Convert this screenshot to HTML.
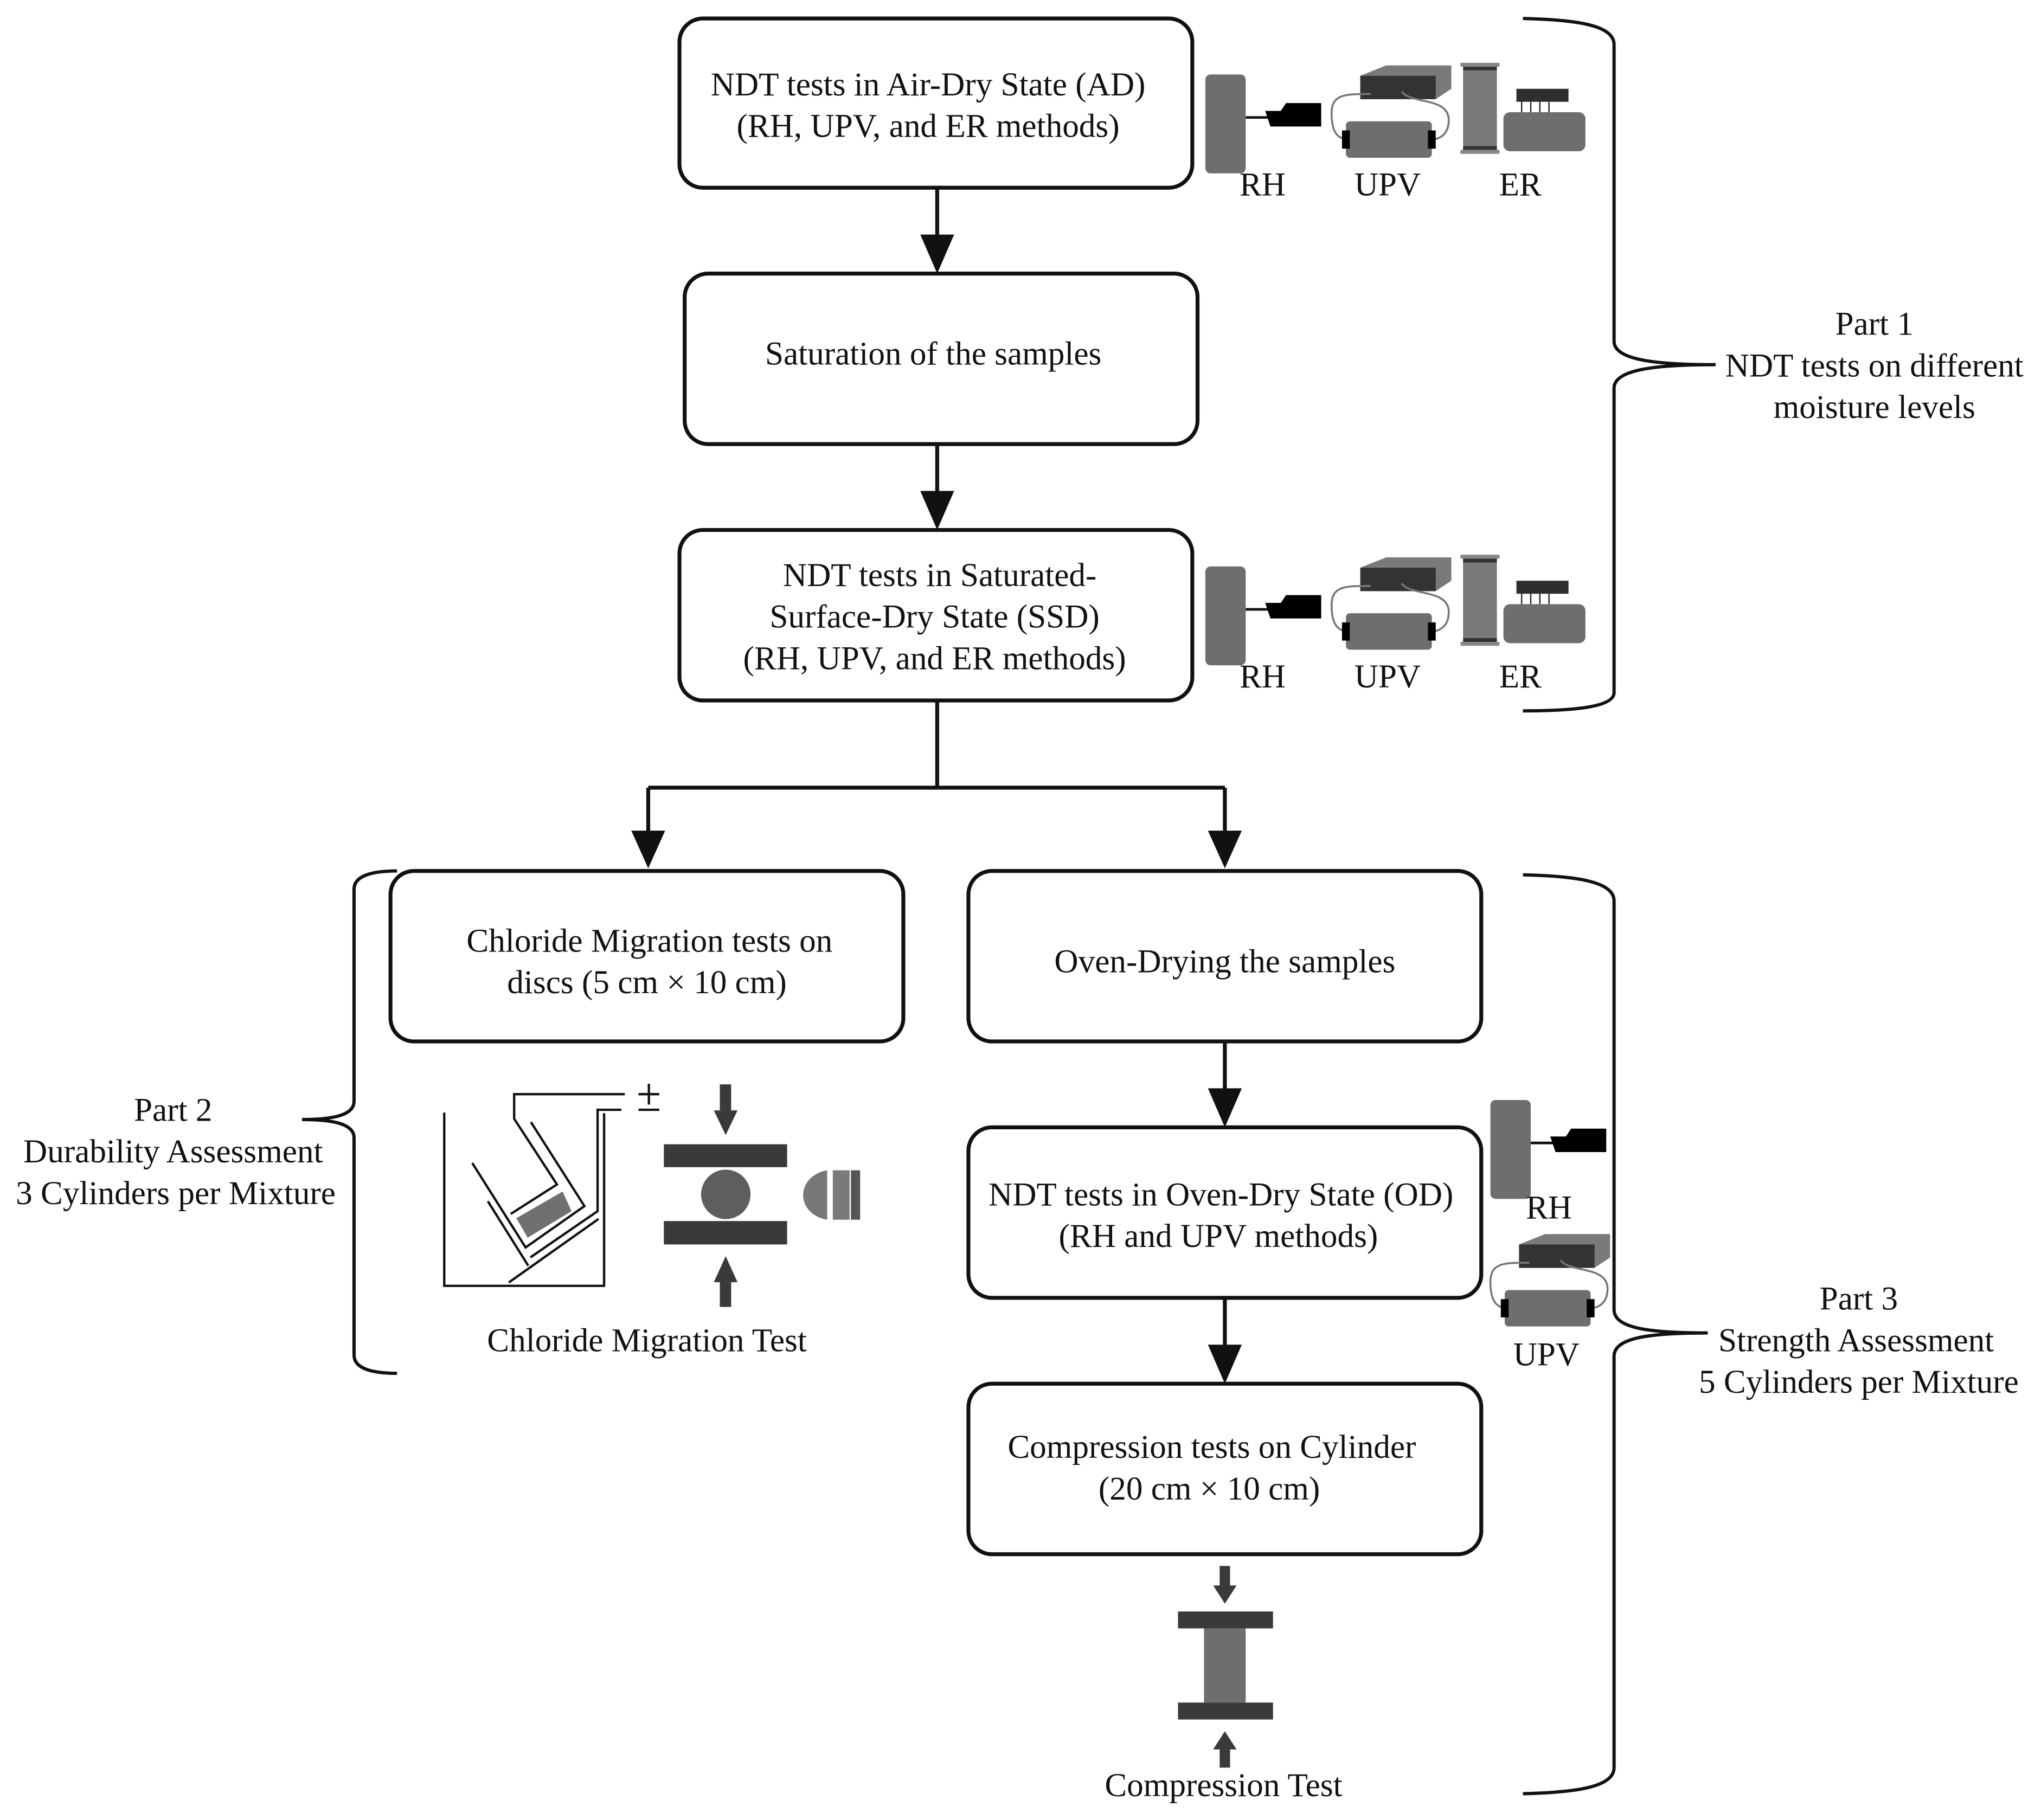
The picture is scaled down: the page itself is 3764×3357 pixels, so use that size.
<!DOCTYPE html>
<html><head><meta charset="utf-8"><style>
html,body{margin:0;padding:0;background:#fff}
svg{display:block}
text{font-family:"Liberation Serif","Times New Roman","DejaVu Serif",serif;font-size:25.5px;fill:#111}
</style></head><body>
<svg width="3764" height="3357" viewBox="0 0 1568 1398" xmlns="http://www.w3.org/2000/svg" font-family="Liberation Serif, serif">
<defs>
<g id="rh">
<rect x="0" y="0" width="31" height="76" rx="4" fill="#6e6e6e"/>
<line x1="31" y1="33" x2="48" y2="33" stroke="#111" stroke-width="2"/>
<path d="M46,28 L58,28 L62,22 L89,22 L89,40 L50,40 Z" fill="#000"/>
</g>
<g id="upv">
<path d="M12,6 L32,-2 L82,-2 L82,16 L70,24 L12,24 Z" fill="#7a7a7a"/>
<rect x="12" y="6" width="58" height="18" fill="#333"/>
<path d="M20,20 C0,20 -10,20 -10,35 C-10,50 -5,55 4,55 M44,18 C50,28 80,22 80,40 C80,52 72,55 66,55" fill="none" stroke="#777" stroke-width="1.5"/>
<rect x="1" y="41" width="66" height="28" rx="3" fill="#6e6e6e"/>
<rect x="-2" y="48" width="6" height="14" fill="#000"/>
<rect x="64" y="48" width="6" height="14" fill="#000"/>
</g>
<g id="er">
<rect x="0" y="0" width="30" height="3" fill="#888"/>
<rect x="2" y="3" width="26" height="3" fill="#333"/>
<rect x="2" y="6" width="26" height="58" fill="#7a7a7a"/>
<rect x="2" y="64" width="26" height="3" fill="#333"/>
<rect x="0" y="67" width="30" height="3" fill="#888"/>
<rect x="43" y="20" width="40" height="10" fill="#2e2e2e"/>
<path d="M47,30v8 M54,30v8 M61,30v8 M68,30v8" stroke="#222" stroke-width="1"/>
<rect x="33" y="38" width="63" height="30" rx="5" fill="#6e6e6e"/>
</g>
<g id="ndt">
<use href="#rh" x="926" y="57"/>
<use href="#upv" x="1033" y="52"/>
<use href="#er" x="1122" y="48"/>
<text x="970" y="150" text-anchor="middle">RH</text>
<text x="1066" y="150" text-anchor="middle">UPV</text>
<text x="1168" y="150" text-anchor="middle">ER</text>
</g>
</defs>
<g fill="none" stroke="#111" stroke-width="3">
<rect x="522" y="14" width="394" height="130" rx="18"/>
<rect x="526" y="210" width="394" height="131" rx="18"/>
<rect x="522" y="407" width="394" height="131" rx="18"/>
<rect x="300" y="669" width="394" height="131" rx="18"/>
<rect x="744" y="669" width="394" height="131" rx="18"/>
<rect x="744" y="866" width="394" height="131" rx="18"/>
<rect x="744" y="1063" width="394" height="131" rx="18"/>
<path d="M720,144V190 M720,341V387 M720,538V605 M498,605H941 M498,605V645 M941,605V645 M941,800V846 M941,997V1043"/>
<path d="M1170,14 C1215,15 1240,20 1240,34 V262 C1240,276 1270,280 1318,280 C1270,280 1240,284 1240,298 V532 C1240,542 1215,546 1170,546" stroke-width="2.5"/>
<path d="M1170,672 C1215,673 1240,678 1240,692 V1006 C1240,1020 1265,1024 1312,1024 C1265,1024 1240,1028 1240,1042 V1358 C1240,1372 1215,1377 1170,1378" stroke-width="2.5"/>
<path d="M305,669 C285,669 272,673 272,683 V846 C272,856 258,860 232,860 C258,860 272,864 272,874 V1041 C272,1051 285,1055 305,1055" stroke-width="2.5"/>
</g>
<g fill="#111">
<path d="M707,180 L733,180 L720,210 Z"/>
<path d="M707,377 L733,377 L720,407 Z"/>
<path d="M485,638 L511,638 L498,667 Z"/>
<path d="M928,638 L954,638 L941,667 Z"/>
<path d="M928,836 L954,836 L941,866 Z"/>
<path d="M928,1033 L954,1033 L941,1063 Z"/>
</g>
<text x="713" y="73" text-anchor="middle">NDT tests in Air-Dry State (AD)</text>
<text x="713" y="105" text-anchor="middle">(RH, UPV, and ER methods)</text>
<text x="717" y="280" text-anchor="middle">Saturation of the samples</text>
<text x="722" y="450" text-anchor="middle">NDT tests in Saturated-</text>
<text x="718" y="482" text-anchor="middle">Surface-Dry State (SSD)</text>
<text x="718" y="514" text-anchor="middle">(RH, UPV, and ER methods)</text>
<text x="499" y="731" text-anchor="middle">Chloride Migration tests on</text>
<text x="497" y="763" text-anchor="middle">discs (5 cm × 10 cm)</text>
<text x="941" y="747" text-anchor="middle">Oven-Drying the samples</text>
<text x="938" y="926" text-anchor="middle">NDT tests in Oven-Dry State (OD)</text>
<text x="936" y="958" text-anchor="middle">(RH and UPV methods)</text>
<text x="931" y="1120" text-anchor="middle">Compression tests on Cylinder</text>
<text x="929" y="1152" text-anchor="middle">(20 cm × 10 cm)</text>
<text x="1440" y="257" text-anchor="middle">Part 1</text>
<text x="1440" y="289" text-anchor="middle">NDT tests on different</text>
<text x="1440" y="321" text-anchor="middle">moisture levels</text>
<text x="133" y="861" text-anchor="middle">Part 2</text>
<text x="133" y="893" text-anchor="middle">Durability Assessment</text>
<text x="135" y="925" text-anchor="middle">3 Cylinders per Mixture</text>
<text x="1428" y="1006" text-anchor="middle">Part 3</text>
<text x="1426" y="1038" text-anchor="middle">Strength Assessment</text>
<text x="1428" y="1070" text-anchor="middle">5 Cylinders per Mixture</text>
<use href="#ndt"/>
<use href="#ndt" y="378"/>
<use href="#rh" x="1145" y="845"/>
<text x="1190" y="936" text-anchor="middle">RH</text>
<use href="#upv" x="1155" y="950"/>
<text x="1188" y="1049" text-anchor="middle">UPV</text>
<!-- chloride migration cell -->
<g fill="none" stroke="#111" stroke-width="1.8">
<path d="M341.3,854.7 V987.8 H464.1 V855.1"/>
<path d="M477.4,852.5 H459.1 V930.4 L407.5,965.9"/>
<path d="M480,840.5 H395 V859.4 L427.9,909.9 L392.4,932.5"/>
<path d="M407.9,862 L449,926.5 L403.8,958.3 L362.8,893.4"/>
<path d="M374.8,922.8 L405.8,972.3"/>
<path d="M459.8,936.4 L390.9,985.2"/>
<path d="M490.5,840.5 H506.5 M498.5,832.5 V848.5 M490.5,852.5 H506.5"/>
</g>
<path d="M396.7,935.8 L432.2,915.3 L439.1,930.4 L405.4,950.8 Z" fill="#707070"/>
<g fill="#3a3a3a">
<rect x="553" y="833" width="8.7" height="20"/><path d="M548.4,853 L566.6,853 L557.5,872 Z"/>
<rect x="510" y="879" width="94.7" height="17.6"/>
<rect x="510" y="938" width="94.7" height="18"/>
<path d="M548.4,985 L566.6,985 L557.5,965 Z"/><rect x="553" y="985" width="8.7" height="19"/>
</g>
<circle cx="557.6" cy="917.5" r="19" fill="#5e5e5e"/>
<path d="M635.5,899 C624,901 617,909 617,918 C617,927 624,935 635.5,937 Z" fill="#777"/>
<rect x="639.8" y="899" width="12.9" height="38" fill="#7a7a7a"/>
<rect x="653.7" y="899" width="7.1" height="38" fill="#555"/>
<text x="497" y="1038" text-anchor="middle">Chloride Migration Test</text>
<!-- compression icon -->
<g fill="#3a3a3a">
<rect x="937" y="1203" width="8" height="16"/><path d="M932,1218 L950,1218 L941,1232 Z"/>
<rect x="905" y="1238" width="73" height="13"/>
<rect x="905" y="1308" width="73" height="13"/>
<path d="M932,1344 L950,1344 L941,1330 Z"/><rect x="937" y="1344" width="8" height="14"/>
</g>
<rect x="925" y="1251" width="32" height="57" fill="#6e6e6e"/>
<text x="940" y="1380" text-anchor="middle">Compression Test</text>
</svg>
</body></html>
